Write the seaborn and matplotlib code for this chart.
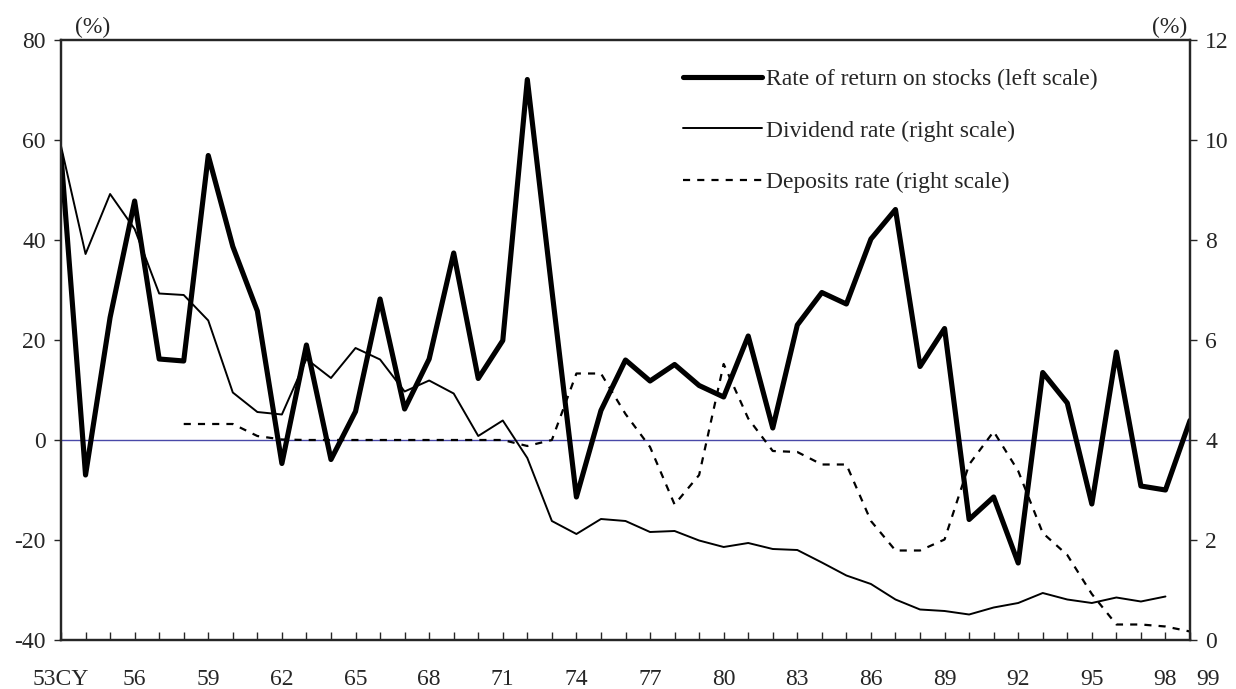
import numpy as np
import pandas as pd
import matplotlib
matplotlib.use("Agg")
import matplotlib.pyplot as plt
import matplotlib.transforms as mtransforms
import seaborn as sns

# data (calendar years 1953-1999)
years = list(range(53, 100))

stock_return = [57.0, -7.0, 24.5, 47.8, 16.2, 15.8, 56.9, 38.7, 25.8, -4.7,
                19.0, -3.9, 5.7, 28.2, 6.2, 16.2, 37.4, 12.3, 19.9, 72.1,
                30.0, -11.4, 5.9, 16.0, 11.8, 15.1, 10.9, 8.6, 20.8, 2.4,
                23.0, 29.5, 27.2, 40.2, 46.1, 14.7, 22.3, -15.9, -11.4, -24.6,
                13.5, 7.4, -12.8, 17.6, -9.2, -10.0, 3.9]

dividend_rate = [9.88, 7.72, 8.92, 8.22, 6.93, 6.90, 6.39, 4.95, 4.56, 4.51,
                 5.62, 5.24, 5.84, 5.61, 4.97, 5.19, 4.93, 4.08, 4.39, 3.64,
                 2.38, 2.12, 2.42, 2.38, 2.16, 2.18, 1.99, 1.86, 1.94, 1.82,
                 1.80, 1.55, 1.29, 1.12, 0.81, 0.61, 0.58, 0.51, 0.65, 0.74,
                 0.94, 0.81, 0.74, 0.85, 0.77, 0.87, np.nan]

deposit_rate = [np.nan, np.nan, np.nan, np.nan, np.nan, 4.32, 4.32, 4.32, 4.08, 4.01,
                4.0, 4.0, 4.0, 4.0, 4.0, 4.0, 4.0, 4.0, 4.0, 3.88,
                4.0, 5.33, 5.33, 4.52, 3.86, 2.71, 3.30, 5.52, 4.43, 3.78,
                3.76, 3.51, 3.51, 2.38, 1.79, 1.79, 2.01, 3.51, 4.17, 3.38,
                2.14, 1.70, 0.92, 0.31, 0.31, 0.27, 0.17]

tick_years = list(range(53, 99, 3)) + [99]
tick_text = ["53CY"] + [str(y) for y in range(56, 99, 3)] + ["99"]

df = pd.DataFrame({"year": years, "stock": stock_return,
                   "dividend": dividend_rate, "deposit": deposit_rate})

sns.set_style("ticks")
plt.rcParams["font.family"] = ["Liberation Serif", "DejaVu Serif"]
plt.rcParams["axes.unicode_minus"] = False
plt.rcParams["axes.linewidth"] = 1.6

fs = 17

fig = plt.figure(figsize=(12.36, 6.89), dpi=100)
ax = fig.add_axes([61 / 1236, 49 / 689, 1129 / 1236, 600 / 689])
ax2 = ax.twinx()

ax.axhline(0, color="#4848a8", lw=1.0, zorder=1)

sns.lineplot(data=df, x="year", y="stock", ax=ax, color="black", lw=3.7,
             label="Rate of return on stocks (left scale)", legend=False, zorder=3)
sns.lineplot(data=df, x="year", y="dividend", ax=ax2, color="black", lw=1.4,
             label="Dividend rate (right scale)", legend=False)
sns.lineplot(data=df, x="year", y="deposit", ax=ax2, color="black", lw=1.6,
             linestyle=(0, (3.2, 3.2)), label="Deposits rate (right scale)", legend=False)

ax.set_xlim(53, 99)
ax.set_ylim(-40, 80)
ax2.set_ylim(0, 12)
ax.set_yticks(range(-40, 81, 20))
ax2.set_yticks(range(0, 13, 2))
ax.set_xticks(years)
ax.set_xticklabels([tick_text[tick_years.index(y)] if y in tick_years else "" for y in years])

for a in (ax, ax2):
    a.set_xlabel("")
    a.set_ylabel("")
    for s in a.spines.values():
        s.set_visible(True)
        s.set_linewidth(1.6)

ax.tick_params(axis="x", direction="in", length=6, width=1, labelsize=fs, pad=21)
ax.tick_params(axis="y", direction="out", length=5, width=1, labelsize=fs, pad=6)
ax2.tick_params(axis="y", direction="out", length=5, width=1, labelsize=fs, pad=6)

# last label sits a little right of the corner
lbl = ax.get_xticklabels()[-1]
lbl.set_transform(lbl.get_transform() + mtransforms.ScaledTranslation(0.18, 0, fig.dpi_scale_trans))

ax.text(0.012, 1.004, "(%)", transform=ax.transAxes, fontsize=fs, ha="left", va="bottom")
ax.text(0.998, 1.004, "(%)", transform=ax.transAxes, fontsize=fs, ha="right", va="bottom")

h1, l1 = ax.get_legend_handles_labels()
h2, l2 = ax2.get_legend_handles_labels()
leg = ax2.legend(h1 + h2, l1 + l2, loc="upper left", bbox_to_anchor=(0.551, 0.952),
                 frameon=False, fontsize=fs, handlelength=3.35, handletextpad=0.17,
                 labelspacing=1.26, borderaxespad=0, borderpad=0)

fig.savefig("out.png", dpi=100)
